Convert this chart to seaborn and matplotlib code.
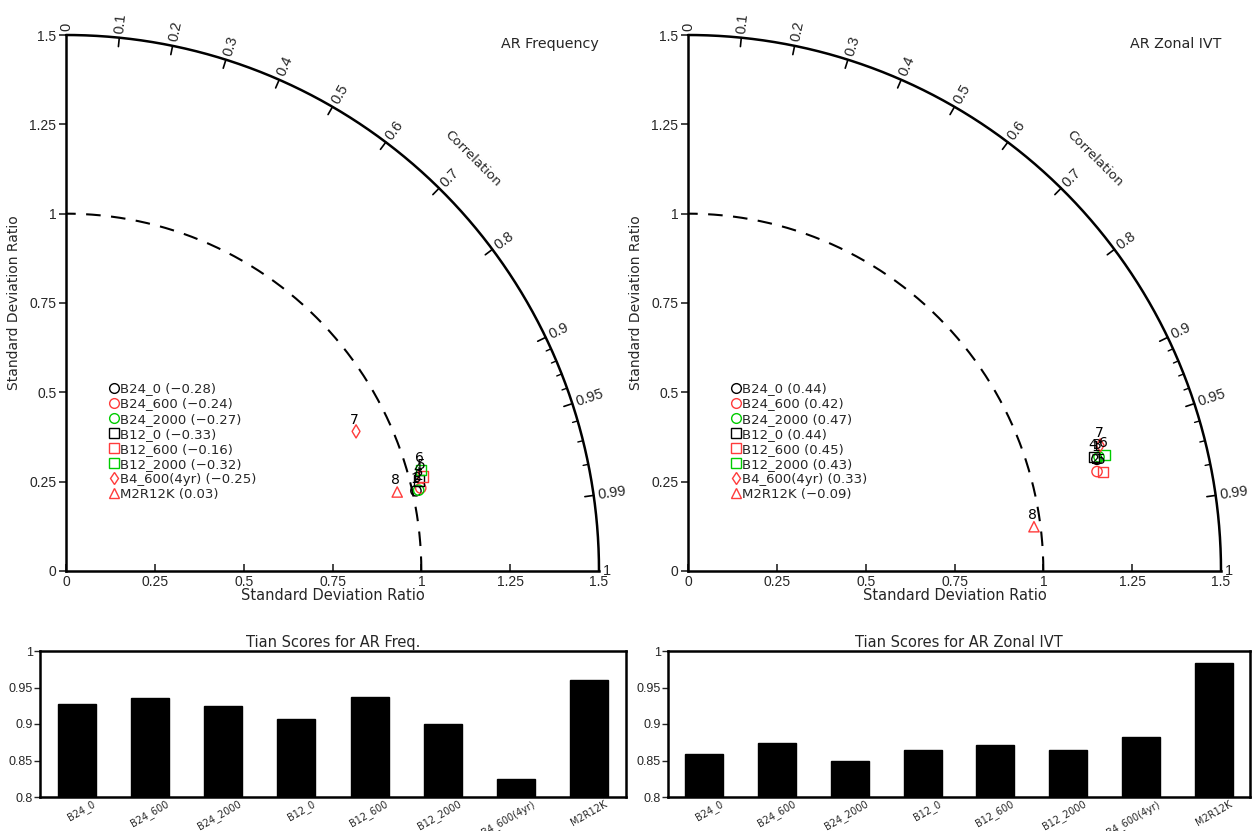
import numpy as np
import matplotlib
matplotlib.use("Agg")
import matplotlib.pyplot as plt
import matplotlib.transforms as mtrans
from matplotlib.lines import Line2D
import seaborn as sns
import pandas as pd

# ---------------- data ----------------
models = ["B24_0", "B24_600", "B24_2000", "B12_0", "B12_600", "B12_2000", "B4_600(4yr)", "M2R12K"]
colors = ["black", "#ff3b3b", "#00cc00", "black", "#ff3b3b", "#00cc00", "#ff3b3b", "#ff3b3b"]
markers = ["o", "o", "o", "s", "s", "s", "d", "^"]

# AR Frequency Taylor stats
freq_std = [1.010, 1.025, 1.018, 1.025, 1.039, 1.038, 0.905, 0.958]
freq_corr = [0.975, 0.974, 0.975, 0.969, 0.967, 0.962, 0.902, 0.973]
freq_bias = [-0.28, -0.24, -0.27, -0.33, -0.16, -0.32, -0.25, 0.03]

# AR Zonal IVT Taylor stats
ivt_std = [1.1925, 1.1843, 1.1999, 1.1864, 1.2008, 1.2179, 1.2122, 0.9815]
ivt_corr = [0.965, 0.972, 0.964, 0.963, 0.973, 0.964, 0.957, 0.992]
ivt_bias = [0.44, 0.42, 0.47, 0.44, 0.45, 0.43, 0.33, -0.09]

# Tian scores
freq_scores = [0.927, 0.935, 0.925, 0.907, 0.937, 0.900, 0.825, 0.960]
ivt_scores = [0.859, 0.874, 0.849, 0.864, 0.871, 0.864, 0.882, 0.984]

std_ticks = [0, 0.25, 0.5, 0.75, 1, 1.25, 1.5]
std_ticklabels = ["0", "0.25", "0.5", "0.75", "1", "1.25", "1.5"]
corr_major = [0, 0.1, 0.2, 0.3, 0.4, 0.5, 0.6, 0.7, 0.8, 0.9, 0.95, 0.99, 1.0]
corr_major_labels = ["0", "0.1", "0.2", "0.3", "0.4", "0.5", "0.6", "0.7", "0.8", "0.9", "0.95", "0.99", "1"]
corr_minor = [0.91, 0.92, 0.93, 0.94, 0.96, 0.97, 0.98]
score_ticks = [0.8, 0.85, 0.9, 0.95, 1.0]
score_ticklabels = ["0.8", "0.85", "0.9", "0.95", "1"]

# ---------------- style ----------------
sns.set_theme(style="white")
plt.rcParams["font.family"] = ["DejaVu Sans"]
plt.rcParams["axes.linewidth"] = 1.8
NUMFONT = "Liberation Sans"

fig = plt.figure(figsize=(12.54, 8.31), dpi=100)

RMAX = 1.5


def taylor(ax, stds, corrs, biases, title):
    stds = np.asarray(stds)
    th = np.arccos(np.asarray(corrs))
    xs = stds * np.cos(th)
    ys = stds * np.sin(th)

    ax.set_xlim(0, RMAX)
    ax.set_ylim(0, RMAX)
    for s in ["top", "right"]:
        ax.spines[s].set_visible(False)
    for s in ["left", "bottom"]:
        ax.spines[s].set_color("black")
        ax.spines[s].set_linewidth(1.8)

    ax.set_xticks(std_ticks)
    ax.set_xticklabels(std_ticklabels, family=NUMFONT, fontsize=10)
    ax.set_yticks(std_ticks)
    ax.set_yticklabels(std_ticklabels, family=NUMFONT, fontsize=10)
    ax.tick_params(axis="x", direction="in", length=5, width=1.2, pad=3, bottom=True)
    ax.tick_params(axis="y", direction="out", length=5, width=1.2, pad=2, left=True)
    ax.set_xlabel("Standard Deviation Ratio", fontsize=10.5, labelpad=-1)
    ax.set_ylabel("Standard Deviation Ratio", fontsize=10, labelpad=6)

    # outer arc
    t = np.linspace(0, np.pi / 2, 300)
    ax.plot(RMAX * np.cos(t), RMAX * np.sin(t), color="black", lw=1.8, clip_on=False)
    # reference arc
    ax.plot(1.0 * np.cos(t), 1.0 * np.sin(t), color="black", lw=1.5,
            ls=(0, (7, 5)), clip_on=False)

    # correlation ticks & labels
    for c, lab in zip(corr_major, corr_major_labels):
        a = np.arccos(c)
        if 0 < c < 1:
            ax.plot([RMAX * np.cos(a), (RMAX - 0.025) * np.cos(a)],
                    [RMAX * np.sin(a), (RMAX - 0.025) * np.sin(a)],
                    color="black", lw=1.2, clip_on=False)
        rl = RMAX + 0.012
        ax.text(rl * np.cos(a), rl * np.sin(a), lab, rotation=np.degrees(a),
                rotation_mode="anchor", ha="left", va="center", fontsize=10.5,
                family=NUMFONT)
    for c in corr_minor:
        a = np.arccos(c)
        ax.plot([RMAX * np.cos(a), (RMAX - 0.015) * np.cos(a)],
                [RMAX * np.sin(a), (RMAX - 0.015) * np.sin(a)],
                color="black", lw=1.0, clip_on=False)
    ac = np.radians(45.2)
    ax.text(1.625 * np.cos(ac), 1.625 * np.sin(ac), "Correlation", rotation=-45,
            rotation_mode="anchor", ha="center", va="center", fontsize=9.5)

    # points
    for i in range(len(models)):
        sns.scatterplot(x=[xs[i]], y=[ys[i]], marker=markers[i], s=55 if markers[i] != "d" else 45,
                        color=colors[i], facecolor="none", edgecolor=colors[i],
                        linewidth=1.0, ax=ax, legend=False, zorder=5, clip_on=False)
        ax.annotate(str(i + 1), (xs[i], ys[i]), xytext=(-1, 3.5), textcoords="offset points",
                    ha="center", va="bottom", fontsize=10, color="black", zorder=6)

    # legend
    handles = [Line2D([], [], marker=m, ls="none", mfc="none", mec=c, mew=1.0,
                      ms=7 if m != "d" else 6.5) for m, c in zip(markers, colors)]
    labels = [f"{n} ({b:.2f})".replace("-", "\u2212") for n, b in zip(models, biases)]
    ax.legend(handles, labels, loc="upper left", bbox_to_anchor=(0.081, 0.352),
              frameon=False, handlelength=0.7, handletextpad=0.15, labelspacing=0.16,
              fontsize=9.5, borderaxespad=0, borderpad=0)

    ax.text(1.0, 0.983, title, transform=ax.transAxes, ha="right", va="center", fontsize=10.3)


def bars(ax, scores, title):
    df = pd.DataFrame({"model": models, "score": scores})
    sns.barplot(data=df, x="model", y="score", color="black", width=0.52,
                saturation=1, ax=ax, edgecolor="black")
    ax.set_ylim(0.8, 1.0)
    ax.set_xlim(-0.5, len(models) - 0.5)
    ax.set_yticks(score_ticks)
    ax.set_yticklabels(score_ticklabels, family=NUMFONT, fontsize=9)
    ax.set_xlabel("")
    ax.set_ylabel("")
    for s in ax.spines.values():
        s.set_visible(True)
        s.set_color("black")
        s.set_linewidth(1.8)
    ax.tick_params(axis="y", direction="out", length=4, width=1.0, pad=1, left=True)
    ax.tick_params(axis="x", length=0, labelsize=7, pad=1)
    off = mtrans.ScaledTranslation(15 / 100, 0, fig.dpi_scale_trans)
    for lab in ax.get_xticklabels():
        lab.set_rotation(30)
        lab.set_ha("right")
        lab.set_va("top")
        lab.set_rotation_mode("anchor")
        lab.set_transform(lab.get_transform() + off)
    ax.set_title(title, fontsize=10.5, pad=3)


ax1 = fig.add_axes([66 / 1254, 260 / 831, 533 / 1254, 536 / 831])
ax2 = fig.add_axes([688 / 1254, 260 / 831, 533 / 1254, 536 / 831])
taylor(ax1, freq_std, freq_corr, freq_bias, "AR Frequency")
taylor(ax2, ivt_std, ivt_corr, ivt_bias, "AR Zonal IVT")

bx1 = fig.add_axes([40 / 1254, 34 / 831, 586 / 1254, 146 / 831])
bx2 = fig.add_axes([668 / 1254, 34 / 831, 582 / 1254, 146 / 831])
bars(bx1, freq_scores, "Tian Scores for AR Freq.")
bars(bx2, ivt_scores, "Tian Scores for AR Zonal IVT")

fig.savefig("out.png", dpi=100, facecolor="white")
